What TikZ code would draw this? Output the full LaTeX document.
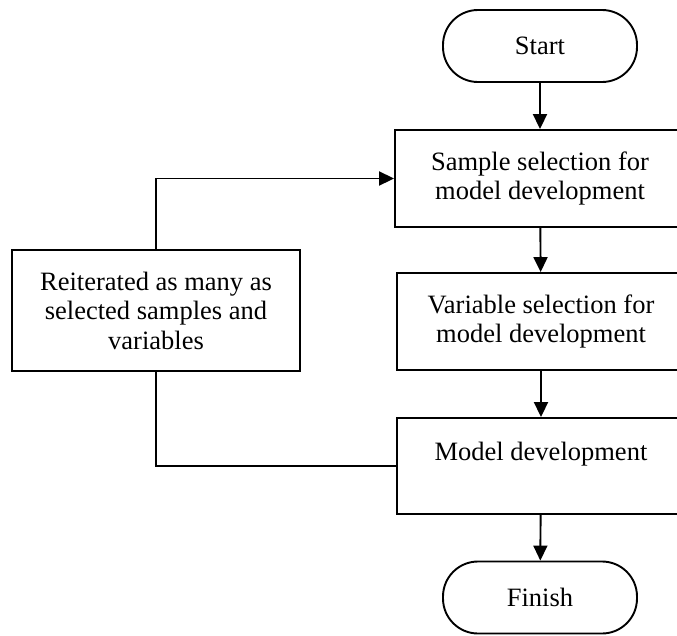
\documentclass[tikz,border=0pt]{standalone}
\usepackage{fontspec}
\setmainfont{Liberation Serif}
\usetikzlibrary{arrows.meta}
\begin{document}
\begin{tikzpicture}[x=1pt,y=-1pt,
  every node/.style={font=\fontsize{26.5}{29.5}\selectfont, align=center, inner sep=0pt},
  box/.style={draw, line width=1.9pt, rectangle},
  term/.style={draw, line width=1.9pt, rectangle, rounded corners=35pt, minimum width=194pt, minimum height=72pt},
  arr/.style={line width=1.9pt, -{Triangle[length=15pt,width=14pt]}},
  conn/.style={line width=1.9pt}]
\useasboundingbox (0,0) rectangle (677,635);
\clip (0,0) rectangle (677,635);
\node[term] (start) at (540,46) {Start};
\node[box, minimum width=290pt, minimum height=97pt] (b1) at (540,178.5) {Sample selection for\\model development};
\node[box, minimum width=288pt, minimum height=97pt] (b2) at (541,321.5) {Variable selection for\\model development};
\node[box, minimum width=288pt, minimum height=96pt] (b3) at (541,466) {Model development\\\mbox{}};
\node[term] (finish) at (540,597.5) {Finish};
\node[box, minimum width=288pt, minimum height=121pt] (left) at (156,310.5) {Reiterated as many as\\selected samples and\\variables};
\draw[arr] (start) -- (b1);
\draw[arr] (b1) -- (b2);
\draw[arr] (b2) -- (b3);
\draw[arr] (b3) -- (finish);
\draw[arr] (left.north) |- (b1.west);
\draw[conn] (left.south) |- (b3.west);
\end{tikzpicture}
\end{document}
